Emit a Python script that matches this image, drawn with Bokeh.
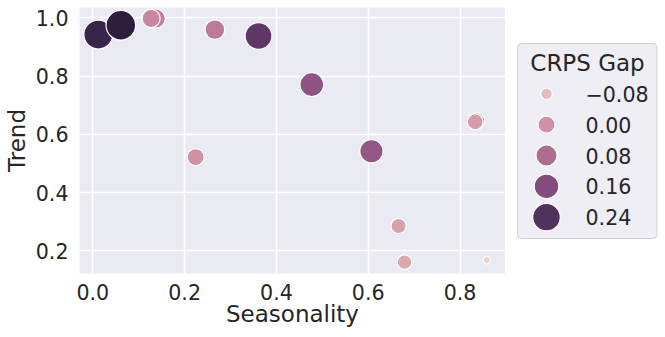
import numpy as np
from bokeh.plotting import figure
from bokeh.layouts import row
from bokeh.models import FixedTicker, PrintfTickFormatter, Range1d, ColumnDataSource
from bokeh.core.properties import value
from bokeh.embed import file_html
from bokeh.resources import INLINE

# ---------------- data ----------------
seasonality = [0.012, 0.061, 0.137, 0.127, 0.266, 0.361, 0.477, 0.836, 0.833, 0.607, 0.224, 0.666, 0.679, 0.858]
trend       = [0.943, 0.975, 0.998, 0.998, 0.960, 0.938, 0.771, 0.646, 0.643, 0.542, 0.522, 0.285, 0.161, 0.168]
crps_gap    = [0.28, 0.30, 0.04, 0.02, 0.05, 0.22, 0.14, -0.01, -0.02, 0.13, 0.00, -0.03, -0.04, -0.12]
legend_values = [-0.08, 0.00, 0.08, 0.16, 0.24]
x_ticks = [0.0, 0.2, 0.4, 0.6, 0.8]
y_ticks = [0.2, 0.4, 0.6, 0.8, 1.0]
x_label, y_label, legend_title = "Seasonality", "Trend", "CRPS Gap"

FONT = "DejaVu Sans"
TXT = "#262626"
H = 337
TOP, BOTTOM, LEFT = 7, 64, 77
W1, W2 = 505, 155
XR = (-0.029, 0.899)
YR = (0.122, 1.036)

# seaborn default "ch:" cubehelix colormap (light -> dark)
def cubehelix_hex(x, start=0.0, rot=0.4, gamma=1.0, hue=0.8):
    xg = x ** gamma
    a = hue * xg * (1 - xg) / 2
    phi = 2 * np.pi * (start / 3 + rot * x)
    r = xg + a * (-0.14861 * np.cos(phi) + 1.78277 * np.sin(phi))
    g = xg + a * (-0.29227 * np.cos(phi) - 0.90649 * np.sin(phi))
    b = xg + a * (1.97294 * np.cos(phi))
    rgb = np.clip([r, g, b], 0, 1)
    return "#%02x%02x%02x" % tuple(int(round(c * 255)) for c in rgb)

vmin, vmax = min(crps_gap), max(crps_gap)
dmin, dmax = 7.4, 29.6  # marker diameters (px) at data min / max

def hue_of(v):
    t = (v - vmin) / (vmax - vmin)
    return cubehelix_hex(0.85 - 0.7 * t)

def size_of(v):
    t = (v - vmin) / (vmax - vmin)
    return float(np.sqrt(dmin ** 2 + t * (dmax ** 2 - dmin ** 2)))

src = ColumnDataSource(dict(
    x=seasonality, y=trend,
    color=[hue_of(v) for v in crps_gap],
    size=[size_of(v) for v in crps_gap],
))

# ---------------- main plot ----------------
p = figure(width=W1, height=H,
           x_range=Range1d(*XR), y_range=Range1d(*YR),
           output_backend="svg", toolbar_location=None,
           min_border_left=LEFT, min_border_right=0, min_border_top=TOP, min_border_bottom=BOTTOM)
p.background_fill_color = "#eaeaf2"
p.border_fill_color = "white"
p.outline_line_color = None
p.grid.grid_line_color = "white"
p.grid.grid_line_width = 1.5

p.xaxis.ticker = FixedTicker(ticks=x_ticks)
p.yaxis.ticker = FixedTicker(ticks=y_ticks)
p.axis.formatter = PrintfTickFormatter(format="%.1f")
p.axis.axis_line_color = None
p.axis.major_tick_line_color = None
p.axis.minor_tick_line_color = None
p.axis.major_tick_out = 0
p.axis.major_tick_in = 0
p.axis.major_label_text_font = FONT
p.axis.major_label_text_font_size = "20.6px"
p.axis.major_label_text_color = TXT
p.axis.axis_label_text_font = FONT
p.axis.axis_label_text_font_size = "23px"
p.axis.axis_label_text_font_style = "normal"
p.axis.axis_label_text_color = TXT
p.xaxis.axis_label = x_label
p.yaxis.axis_label = y_label
p.xaxis.major_label_standoff = 10
p.xaxis.axis_label_standoff = -2
p.yaxis.major_label_standoff = 11
p.yaxis.axis_label_standoff = 3

p.scatter("x", "y", source=src, size="size", fill_color="color",
          line_color="white", line_width=1.2)

# ---------------- legend panel (page-pixel coordinates) ----------------
lg_left = W1
lg = figure(width=W2, height=H,
            x_range=Range1d(lg_left, lg_left + W2), y_range=Range1d(H - BOTTOM, TOP),
            x_axis_location=None, y_axis_location=None,
            output_backend="svg", toolbar_location=None,
            min_border_left=0, min_border_right=0, min_border_top=TOP, min_border_bottom=BOTTOM)
lg.grid.visible = False
lg.background_fill_color = "white"
lg.border_fill_color = "white"
lg.outline_line_color = None

# legend frame
lg.quad(left=[517], right=[656.5], top=[43], bottom=[238], border_radius=4,
        fill_color="#eeeef4", line_color="#d2d2d2", line_width=1)

row_y0, row_dy = 93.3, 30.85
ys = [row_y0 + i * row_dy for i in range(len(legend_values))]
leg_src = ColumnDataSource(dict(
    x=[546] * len(legend_values),
    y=ys,
    tx=[585] * len(legend_values),
    color=[hue_of(v) for v in legend_values],
    size=[size_of(v) for v in legend_values],
    label=[("%.2f" % v).replace("-", "\u2212") for v in legend_values],
))
lg.scatter("x", "y", source=leg_src, size="size", fill_color="color",
           line_color="white", line_width=1.2)
lg.text("tx", "y", text="label", source=leg_src, text_align="left", text_baseline="middle",
        text_font=value(FONT), text_font_size="20.6px", text_color=TXT)
lg.text(x=[587], y=[62], text=[legend_title], text_align="center", text_baseline="middle",
        text_font=value(FONT), text_font_size="23px", text_color=TXT)

layout = row(p, lg)
open("out.html", "w").write(file_html(layout, INLINE))
